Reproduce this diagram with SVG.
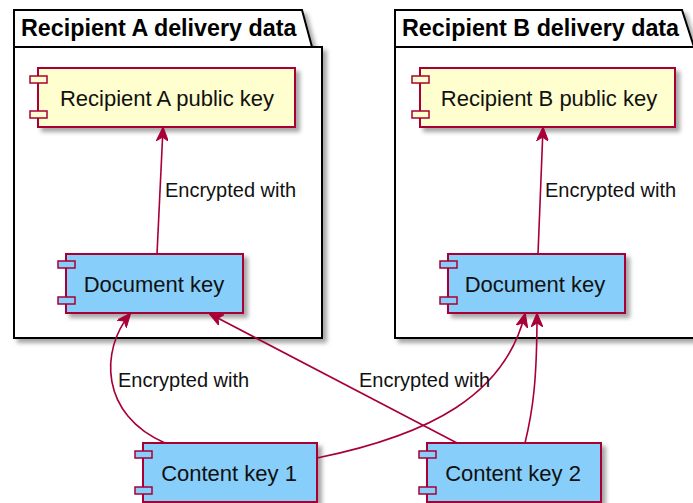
<svg xmlns="http://www.w3.org/2000/svg" width="693" height="503" viewBox="0 0 693 503">
<style>
.pkg{fill:#ffffff;stroke:#000000;stroke-width:2;}
.ttl{font-family:"Liberation Sans",Arial,sans-serif;font-weight:bold;font-size:23.3px;fill:#000;}
.cy{fill:#FEFECE;stroke:#A80036;stroke-width:2;}
.cb{fill:#87CEFA;stroke:#A80036;stroke-width:2;}
.port{stroke:#A80036;stroke-width:1.5;}
.ct{font-family:"Liberation Sans",Arial,sans-serif;font-size:22px;fill:#111;text-anchor:middle;}
.lbl{font-family:"Liberation Sans",Arial,sans-serif;font-size:20px;fill:#111;}
.edge{fill:none;stroke:#A80036;stroke-width:1.6;marker-end:url(#ah);}
</style>
<defs>
<filter id="sh" x="-10%" y="-10%" width="130%" height="140%">
<feDropShadow dx="4" dy="4" stdDeviation="2" flood-color="#000" flood-opacity="0.35"/>
</filter>
<marker id="ah" markerUnits="userSpaceOnUse" viewBox="0 0 14 12" refX="13" refY="6" markerWidth="14" markerHeight="12" orient="auto">
<path d="M0,0 L14,6 L0,12 L4,6 Z" fill="#A80036" stroke="#A80036" stroke-width="1"/>
</marker>
</defs>
<g id="pkgA">
<path class="pkg" filter="url(#sh)" d="M14,10 L302,10 L312,47 L322,47 L322,338 L14,338 Z"/>
<path d="M14,47 L312,47" fill="none" stroke="#000" stroke-width="2"/>
<text class="ttl" x="21" y="36">Recipient A delivery data</text>
</g>
<g id="pkgB">
<path class="pkg" filter="url(#sh)" d="M395,10 L682,10 L694,47 L705,47 L705,338 L395,338 Z"/>
<path d="M395,47 L694,47" fill="none" stroke="#000" stroke-width="2"/>
<text class="ttl" x="402" y="36">Recipient B delivery data</text>
</g>
<g id="pubA">
<rect class="cy" filter="url(#sh)" x="38" y="68" width="257" height="59"/>
<rect class="cy port" x="30" y="76" width="17" height="7"/>
<rect class="cy port" x="30" y="111" width="17" height="7"/>
<text class="ct" x="167" y="106">Recipient A public key</text>
</g>
<g id="pubB">
<rect class="cy" filter="url(#sh)" x="420" y="68" width="255" height="59"/>
<rect class="cy port" x="412" y="76" width="17" height="7"/>
<rect class="cy port" x="412" y="111" width="17" height="7"/>
<text class="ct" x="549" y="106">Recipient B public key</text>
</g>
<g id="docA">
<rect class="cb" filter="url(#sh)" x="66" y="254" width="177" height="59"/>
<rect class="cb port" x="58" y="261" width="17" height="7"/>
<rect class="cb port" x="58" y="297" width="17" height="7"/>
<text class="ct" x="154" y="292">Document key</text>
</g>
<g id="docB">
<rect class="cb" filter="url(#sh)" x="448" y="254" width="177" height="59"/>
<rect class="cb port" x="440" y="261" width="17" height="7"/>
<rect class="cb port" x="440" y="297" width="17" height="7"/>
<text class="ct" x="535" y="292">Document key</text>
</g>
<g id="ck1">
<rect class="cb" filter="url(#sh)" x="143" y="443" width="174" height="59"/>
<rect class="cb port" x="135" y="451" width="17" height="7"/>
<rect class="cb port" x="135" y="487" width="17" height="7"/>
<text class="ct" x="229" y="481">Content key 1</text>
</g>
<g id="ck2">
<rect class="cb" filter="url(#sh)" x="427" y="443" width="174" height="59"/>
<rect class="cb port" x="419" y="451" width="17" height="7"/>
<rect class="cb port" x="419" y="487" width="17" height="7"/>
<text class="ct" x="513" y="481">Content key 2</text>
</g>
<g id="connectors">
<path class="edge" d="M157,254 L163,128"/>
<path class="edge" d="M538,254 L543,128"/>
<path class="edge" d="M165,443 C100,415 100,350 130,314"/>
<path class="edge" d="M457,443 L210,314"/>
<path class="edge" d="M317,458 C430,435 505,395 525,314"/>
<path class="edge" d="M525,443 C533,410 537,380 537,314"/>
<text class="lbl" x="165" y="197">Encrypted with</text>
<text class="lbl" x="545" y="197">Encrypted with</text>
<text class="lbl" x="118" y="387">Encrypted with</text>
<text class="lbl" x="359" y="387">Encrypted with</text>
</g>
</svg>
